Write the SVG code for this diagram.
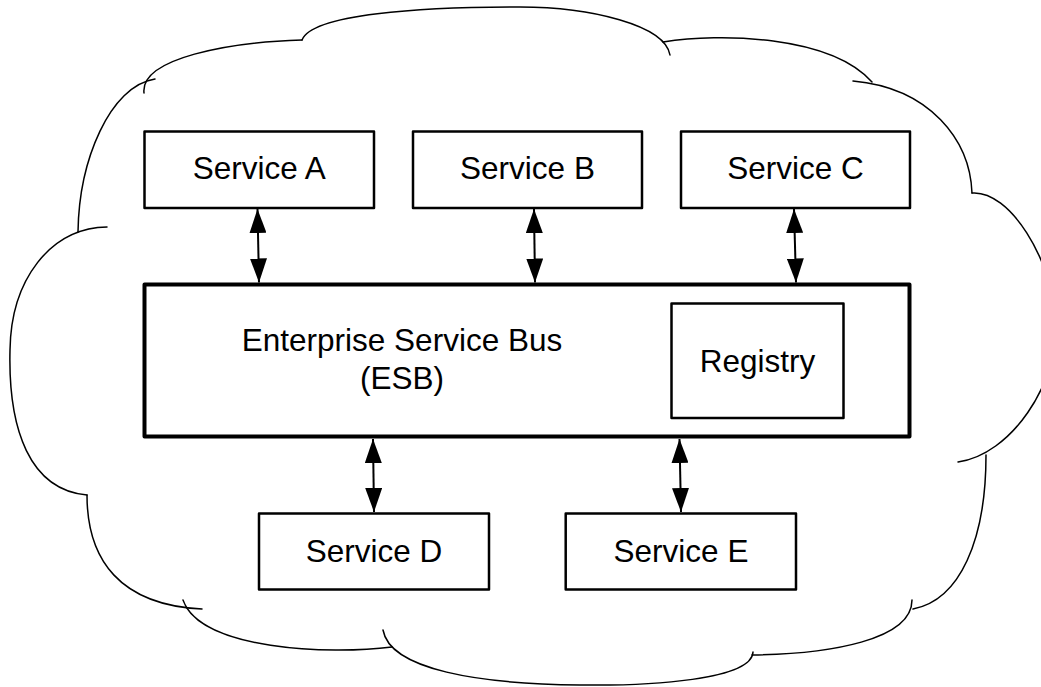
<svg xmlns="http://www.w3.org/2000/svg" width="1041" height="687" viewBox="0 0 1041 687">
<style>
.cloud{fill:none;stroke:#000;stroke-width:1.5;stroke-linecap:round}
.box{fill:#fff;stroke:#000;stroke-width:2.5;stroke-linejoin:round}
.bus{fill:#fff;stroke:#000;stroke-width:4;stroke-linejoin:round}
.lbl{font-family:"Liberation Sans",Arial,sans-serif;font-size:31.5px;fill:#000;text-anchor:middle}
.conn{stroke:#000;stroke-width:2;fill:none;marker-start:url(#ah);marker-end:url(#ah)}
</style>
<defs>
<marker id="ah" markerUnits="userSpaceOnUse" markerWidth="24" markerHeight="17" viewBox="0 0 24 17" refX="24" refY="8.5" orient="auto-start-reverse">
<path d="M0,0 L24,8.5 L0,17 z" fill="#000"/>
</marker>
</defs>
<rect width="1041" height="687" fill="#fff"/>
<g id="cloud">
<path class="cloud" d="M78,232 C79,160 110,86 155,79"/>
<path class="cloud" d="M144,93 C140,58 230,42 302,40"/>
<path class="cloud" d="M302,40 C312,14 420,7 520,7 C590,7 665,25 670,55"/>
<path class="cloud" d="M663,42 C720,33 830,35 872,82"/>
<path class="cloud" d="M853,81 C930,88 970,140 972,193"/>
<path class="cloud" d="M972,193 C1010,190 1052,260 1056,320 C1059,385 1010,455 958,462"/>
<path class="cloud" d="M986,455 C986,540 960,600 913,609"/>
<path class="cloud" d="M912,600 C912,640 830,654 752,655"/>
<path class="cloud" d="M753,652 C752,680 650,686 580,685 C480,684 390,670 383,630"/>
<path class="cloud" d="M392,647 C330,655 200,650 183,600"/>
<path class="cloud" d="M202,609 C120,605 87,560 87,495"/>
<path class="cloud" d="M87,495 C30,490 8,430 10,350 C11,280 50,228 107,227"/>
</g>
<g id="connectors">
<line class="conn" x1="257.5" y1="209" x2="259" y2="282.5"/>
<line class="conn" x1="534" y1="209" x2="535" y2="282.5"/>
<line class="conn" x1="794" y1="209" x2="796" y2="282.5"/>
<line class="conn" x1="373" y1="439" x2="374" y2="512"/>
<line class="conn" x1="679.5" y1="439" x2="681" y2="512"/>
</g>
<g id="service-a">
<rect class="box" x="144.5" y="131.5" width="229.5" height="76.5"/>
<text class="lbl" x="259.3" y="179">Service A</text>
</g>
<g id="service-b">
<rect class="box" x="413" y="131.5" width="229" height="76.5"/>
<text class="lbl" x="527.5" y="179">Service B</text>
</g>
<g id="service-c">
<rect class="box" x="681" y="131.5" width="229" height="76.5"/>
<text class="lbl" x="795.5" y="179">Service C</text>
</g>
<g id="esb">
<rect class="bus" x="144.5" y="284.5" width="765" height="152"/>
<text class="lbl" x="402" y="351">Enterprise Service Bus</text>
<text class="lbl" x="402" y="389">(ESB)</text>
</g>
<g id="registry">
<rect class="box" x="671.5" y="303.5" width="172" height="114.5"/>
<text class="lbl" x="757.5" y="372">Registry</text>
</g>
<g id="service-d">
<rect class="box" x="259" y="513.5" width="230" height="76"/>
<text class="lbl" x="374" y="562">Service D</text>
</g>
<g id="service-e">
<rect class="box" x="565.7" y="513.5" width="230.3" height="76"/>
<text class="lbl" x="681" y="562">Service E</text>
</g>
</svg>
